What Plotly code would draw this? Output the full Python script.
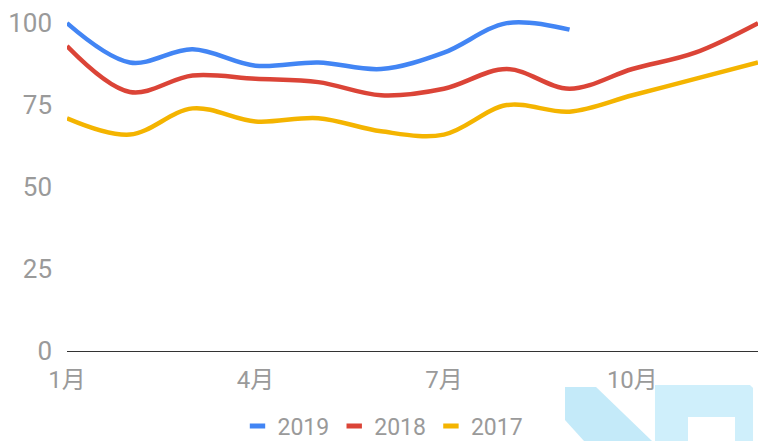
import plotly.graph_objects as go

months = list(range(1, 13))
tick_vals = [1, 4, 7, 10]
tick_text = ["1月", "4月", "7月", "10月"]
y_ticks = [0, 25, 50, 75, 100]

s2019 = [100, 88, 92, 87, 88, 86, 91, 100, 98]
s2018 = [93, 79, 84, 83, 82, 78, 80, 86, 80, 86, 91, 100]
s2017 = [71, 66, 74, 70, 71, 67, 66, 75, 73, 78, 83, 88]

series = [
    ("2019", s2019, "#4285F4"),
    ("2018", s2018, "#DB4437"),
    ("2017", s2017, "#F4B400"),
]

L, R, T, B = 67, 1, 10, 90
W, H = 759, 441
PW, PH = W - L - R, H - T - B


def px(x):
    return (x - L) / PW


def py(y):
    return (H - B - y) / PH


fig = go.Figure()
for name, vals, color in series:
    fig.add_trace(go.Scatter(
        x=months[:len(vals)], y=vals, mode="lines", name=name,
        line=dict(color=color, width=4.5, shape="spline", smoothing=1.0),
        showlegend=False, legendgroup=name, hoverinfo="skip"))
for name, vals, color in series:
    fig.add_trace(go.Scatter(
        x=[None], y=[None], mode="markers", name=name, legendgroup=name,
        marker=dict(symbol="line-ew", size=11, line=dict(color=color, width=5))))


def path(points):
    return "M " + " L ".join(f"{px(a):.4f},{py(b):.4f}" for a, b in points) + " Z"


shapes = [
    dict(type="path", xref="paper", yref="paper", layer="below",
         path=path([(565, 387), (596, 387), (652, 441), (584, 441), (565, 420)]),
         fillcolor="#c4eaf9", line=dict(width=0)),
    dict(type="path", xref="paper", yref="paper", layer="below",
         path=path([(655, 385), (750, 385), (753, 388), (753, 441), (735, 441),
                    (735, 417), (688, 417), (688, 441), (655, 441)]),
         fillcolor="#cfeffb", line=dict(width=0)),
]

font_family = "Roboto, 'Noto Sans CJK SC', sans-serif"
grey = "#9a9a9a"

fig.update_layout(
    width=W, height=H,
    margin=dict(l=L, r=R, t=T, b=B, pad=0, autoexpand=False),
    paper_bgcolor="white", plot_bgcolor="white",
    font=dict(family=font_family, size=25, color=grey),
    showlegend=True,
    legend=dict(orientation="h", x=px(383), y=py(426), xanchor="center", yanchor="middle",
                font=dict(size=23, color=grey), itemwidth=30, traceorder="normal",
                bgcolor="rgba(0,0,0,0)", tracegroupgap=0),
    shapes=shapes,
    xaxis=dict(range=[1, 12], tickvals=tick_vals, ticktext=tick_text,
               showgrid=False, zeroline=False, showline=True, linecolor="#333333",
               linewidth=1.2, ticks="", ticklabelstandoff=7, automargin=False,
               tickfont=dict(size=24, color=grey)),
    yaxis=dict(range=[0, 104], tickvals=y_ticks, showgrid=False, zeroline=False,
               showline=False, ticks="", ticklabelstandoff=14, automargin=False,
               tickfont=dict(size=26, color=grey)),
)

fig.write_html(
    "out.html",
    config={"displayModeBar": False},
    post_script="document.body.style.margin='0px';document.body.style.overflow='hidden';",
)
